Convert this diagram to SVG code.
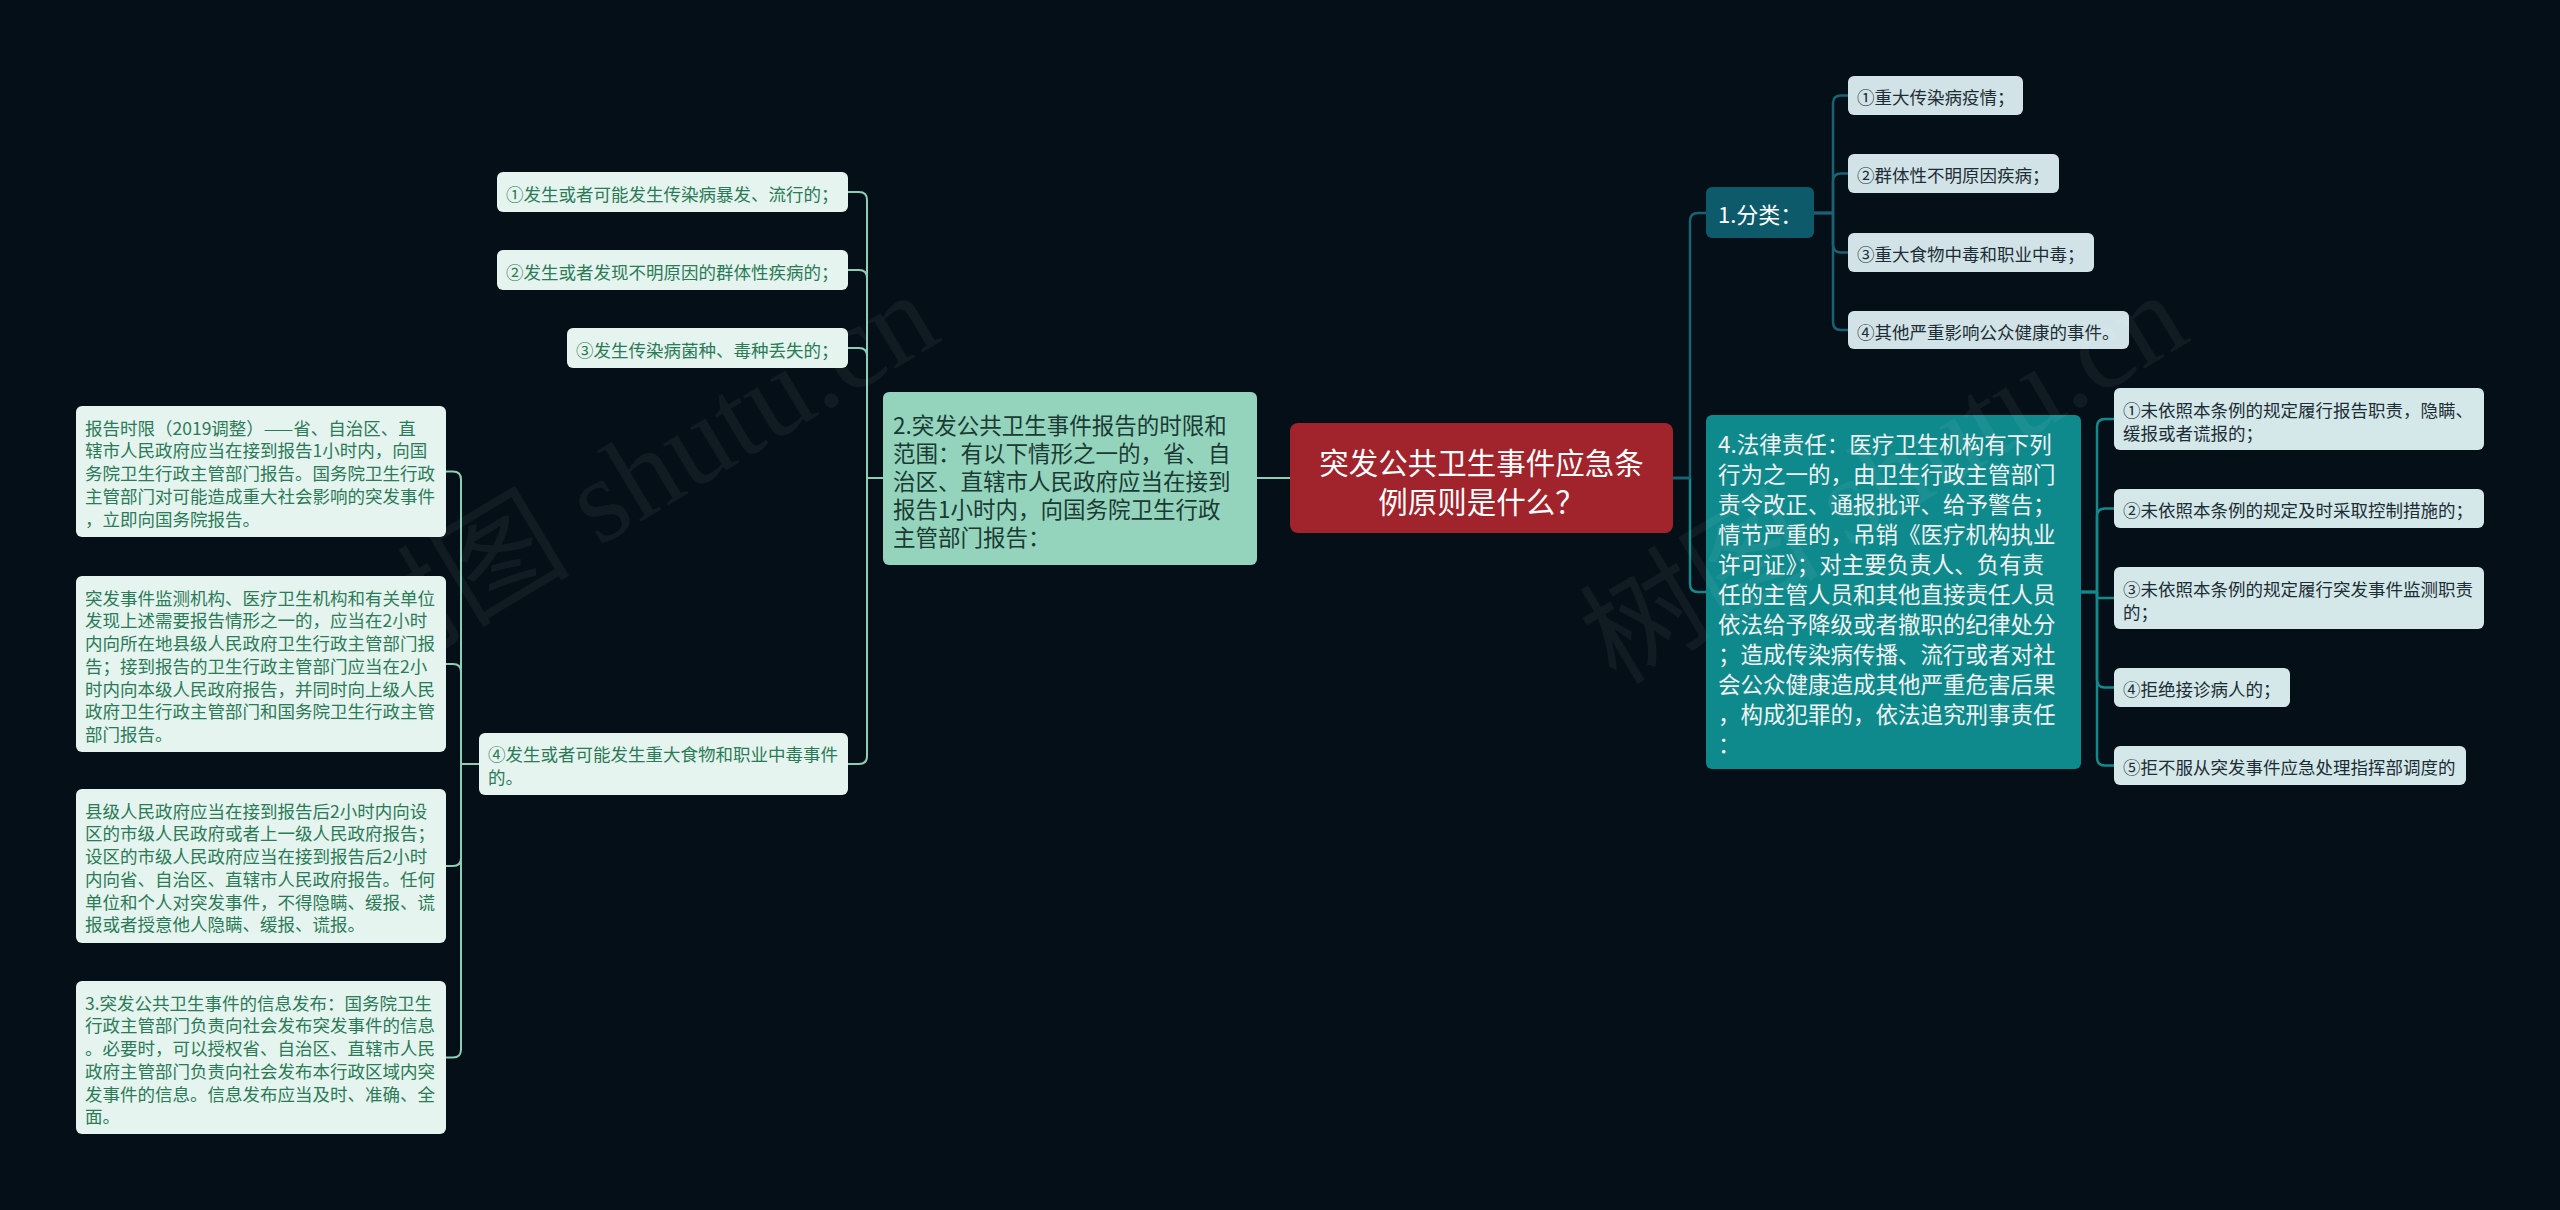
<svg xmlns="http://www.w3.org/2000/svg" width="2560" height="1210" viewBox="0 0 2560 1210">
<style>
text{font-family:"Noto Sans CJK SC","Noto Sans",sans-serif;dominant-baseline:central}
.root rect{fill:#a1232b}
.root text{fill:#ffffff;font-size:29.5px;text-anchor:middle}
.n2 rect{fill:#94d4bd}
.n2 text{fill:#1b3a33;font-size:22.5px}
.lf rect{fill:#e5f4ee}
.lf text{fill:#2b7a58;font-size:17.5px}
.r1 rect{fill:#0c5a6a}
.r1 text{fill:#ffffff;font-size:22px}
.r1c rect{fill:#d2e3e7}
.r1c text{fill:#1d2d35;font-size:17.5px}
.r2 rect{fill:#0f8a8c}
.r2 text{fill:#f2f2f2;font-size:22.5px}
.r2c rect{fill:#d4e8ea}
.r2c text{fill:#1d2d35;font-size:17.5px}
.c{fill:none;stroke-width:2.5;stroke-linejoin:round}
.cm{stroke:#8ccfb5;stroke-width:2}
.cd{stroke:#1a6272}
.ct{stroke:#13898c}
.wm{font-family:"Liberation Serif","Noto Sans CJK SC",serif;font-size:120px;fill:#ffffff;fill-opacity:0.05;dominant-baseline:auto}
</style>
<rect width="2560" height="1210" fill="#050f17"/>

<g id="connectors">
  <path class="c cm" d="M1290,478 H1257"/>
  <path class="c cm" d="M883,478 H867 V200 Q867,192 859,192 H848"/>
  <path class="c cm" d="M883,478 H867 V278 Q867,270 859,270 H848"/>
  <path class="c cm" d="M883,478 H867 V356 Q867,348 859,348 H848"/>
  <path class="c cm" d="M883,478 H867 V756 Q867,764 859,764 H848"/>
  <path class="c cm" d="M479,764 H461 V479.5 Q461,471.5 453,471.5 H446"/>
  <path class="c cm" d="M479,764 H461 V672 Q461,664 453,664 H446"/>
  <path class="c cm" d="M479,764 H461 V858 Q461,866 453,866 H446"/>
  <path class="c cm" d="M479,764 H461 V1049.5 Q461,1057.5 453,1057.5 H446"/>
  <path class="c ct" d="M1673,478 H1690 V584 Q1690,592 1698,592 H1706"/>
  <path class="c cd" d="M1673,478 H1690 V221 Q1690,213 1698,213 H1706"/>
  <path class="c cd" d="M1814,213 H1833 V103.5 Q1833,95.5 1841,95.5 H1848"/>
  <path class="c cd" d="M1814,213 H1833 V181.5 Q1833,173.5 1841,173.5 H1848"/>
  <path class="c cd" d="M1814,213 H1833 V244.5 Q1833,252.5 1841,252.5 H1848"/>
  <path class="c cd" d="M1814,213 H1833 V322 Q1833,330 1841,330 H1848"/>
  <path class="c ct" d="M2081,592 H2097 V427 Q2097,419 2105,419 H2114"/>
  <path class="c ct" d="M2081,592 H2097 V516.5 Q2097,508.5 2105,508.5 H2114"/>
  <path class="c ct" d="M2097,592 V598 H2114"/>
  <path class="c ct" d="M2081,592 H2097 V679.5 Q2097,687.5 2105,687.5 H2114"/>
  <path class="c ct" d="M2081,592 H2097 V757.5 Q2097,765.5 2105,765.5 H2114"/>
</g>

<g id="root" class="root">
  <rect x="1290" y="423" width="383" height="110" rx="8"/>
  <text x="1481.5" y="460.5">突发公共卫生事件应急条</text>
  <text x="1481.5" y="499.5">例原则是什么？</text>
</g>

<g id="node-report" class="n2">
  <rect x="883" y="392" width="374" height="173" rx="6"/>
  <text x="893" y="424">2.突发公共卫生事件报告的时限和</text>
  <text x="893" y="452">范围：有以下情形之一的，省、自</text>
  <text x="893" y="480">治区、直辖市人民政府应当在接到</text>
  <text x="893" y="508">报告1小时内，向国务院卫生行政</text>
  <text x="893" y="536">主管部门报告：</text>
</g>

<g id="node-l1" class="lf">
  <rect x="497" y="172" width="351" height="40" rx="6"/>
  <text x="506" y="193">①发生或者可能发生传染病暴发、流行的；</text>
</g>
<g id="node-l2" class="lf">
  <rect x="497" y="250" width="351" height="40" rx="6"/>
  <text x="506" y="271">②发生或者发现不明原因的群体性疾病的；</text>
</g>
<g id="node-l3" class="lf">
  <rect x="567" y="328" width="281" height="40" rx="6"/>
  <text x="576" y="349">③发生传染病菌种、毒种丢失的；</text>
</g>
<g id="node-l4" class="lf">
  <rect x="479" y="733" width="369" height="62" rx="6"/>
  <text x="488" y="753">④发生或者可能发生重大食物和职业中毒事件</text>
  <text x="488" y="776">的。</text>
</g>

<g id="node-a" class="lf">
  <rect x="76" y="406" width="370" height="131" rx="6"/>
  <text x="85" y="427">报告时限（2019调整）——省、自治区、直</text>
  <text x="85" y="449.75">辖市人民政府应当在接到报告1小时内，向国</text>
  <text x="85" y="472.5">务院卫生行政主管部门报告。国务院卫生行政</text>
  <text x="85" y="495.25">主管部门对可能造成重大社会影响的突发事件</text>
  <text x="85" y="518">，立即向国务院报告。</text>
</g>
<g id="node-b" class="lf">
  <rect x="76" y="576" width="370" height="176" rx="6"/>
  <text x="85" y="597">突发事件监测机构、医疗卫生机构和有关单位</text>
  <text x="85" y="619.75">发现上述需要报告情形之一的，应当在2小时</text>
  <text x="85" y="642.5">内向所在地县级人民政府卫生行政主管部门报</text>
  <text x="85" y="665.25">告；接到报告的卫生行政主管部门应当在2小</text>
  <text x="85" y="688">时内向本级人民政府报告，并同时向上级人民</text>
  <text x="85" y="710.75">政府卫生行政主管部门和国务院卫生行政主管</text>
  <text x="85" y="733.5">部门报告。</text>
</g>
<g id="node-c" class="lf">
  <rect x="76" y="789" width="370" height="154" rx="6"/>
  <text x="85" y="810">县级人民政府应当在接到报告后2小时内向设</text>
  <text x="85" y="832.75">区的市级人民政府或者上一级人民政府报告；</text>
  <text x="85" y="855.5">设区的市级人民政府应当在接到报告后2小时</text>
  <text x="85" y="878.25">内向省、自治区、直辖市人民政府报告。任何</text>
  <text x="85" y="901">单位和个人对突发事件，不得隐瞒、缓报、谎</text>
  <text x="85" y="923.75">报或者授意他人隐瞒、缓报、谎报。</text>
</g>
<g id="node-d" class="lf">
  <rect x="76" y="981" width="370" height="153" rx="6"/>
  <text x="85" y="1002">3.突发公共卫生事件的信息发布：国务院卫生</text>
  <text x="85" y="1024.75">行政主管部门负责向社会发布突发事件的信息</text>
  <text x="85" y="1047.5">。必要时，可以授权省、自治区、直辖市人民</text>
  <text x="85" y="1070.25">政府主管部门负责向社会发布本行政区域内突</text>
  <text x="85" y="1093">发事件的信息。信息发布应当及时、准确、全</text>
  <text x="85" y="1115.75">面。</text>
</g>

<g id="node-class" class="r1">
  <rect x="1706" y="187" width="108" height="51" rx="6"/>
  <text x="1718" y="213">1.分类：</text>
</g>
<g id="node-c1" class="r1c">
  <rect x="1848" y="76" width="175" height="39" rx="6"/>
  <text x="1857" y="96">①重大传染病疫情；</text>
</g>
<g id="node-c2" class="r1c">
  <rect x="1848" y="154" width="211" height="39" rx="6"/>
  <text x="1857" y="174">②群体性不明原因疾病；</text>
</g>
<g id="node-c3" class="r1c">
  <rect x="1848" y="233" width="246" height="39" rx="6"/>
  <text x="1857" y="253">③重大食物中毒和职业中毒；</text>
</g>
<g id="node-c4" class="r1c">
  <rect x="1848" y="311" width="281" height="38" rx="6"/>
  <text x="1857" y="331">④其他严重影响公众健康的事件。</text>
</g>

<g id="node-law" class="r2">
  <rect x="1706" y="415" width="375" height="354" rx="6"/>
  <text x="1718" y="443">4.法律责任：医疗卫生机构有下列</text>
  <text x="1718" y="473">行为之一的，由卫生行政主管部门</text>
  <text x="1718" y="503">责令改正、通报批评、给予警告；</text>
  <text x="1718" y="533">情节严重的，吊销《医疗机构执业</text>
  <text x="1718" y="563">许可证》；对主要负责人、负有责</text>
  <text x="1718" y="593">任的主管人员和其他直接责任人员</text>
  <text x="1718" y="623">依法给予降级或者撤职的纪律处分</text>
  <text x="1718" y="653">；造成传染病传播、流行或者对社</text>
  <text x="1718" y="683">会公众健康造成其他严重危害后果</text>
  <text x="1718" y="713">，构成犯罪的，依法追究刑事责任</text>
  <text x="1718" y="743">：</text>
</g>
<g id="node-d1" class="r2c">
  <rect x="2114" y="388" width="370" height="62" rx="6"/>
  <text x="2123" y="409">①未依照本条例的规定履行报告职责，隐瞒、</text>
  <text x="2123" y="432">缓报或者谎报的；</text>
</g>
<g id="node-d2" class="r2c">
  <rect x="2114" y="489" width="370" height="39" rx="6"/>
  <text x="2123" y="509">②未依照本条例的规定及时采取控制措施的；</text>
</g>
<g id="node-d3" class="r2c">
  <rect x="2114" y="567" width="370" height="62" rx="6"/>
  <text x="2123" y="588">③未依照本条例的规定履行突发事件监测职责</text>
  <text x="2123" y="611">的；</text>
</g>
<g id="node-d4" class="r2c">
  <rect x="2114" y="668" width="176" height="39" rx="6"/>
  <text x="2123" y="688">④拒绝接诊病人的；</text>
</g>
<g id="node-d5" class="r2c">
  <rect x="2114" y="746" width="352" height="39" rx="6"/>
  <text x="2123" y="766">⑤拒不服从突发事件应急处理指挥部调度的</text>
</g>

<g id="watermark">
  <text class="wm" x="367" y="686" transform="rotate(-31 367 686)">树图 shutu.cn</text>
  <text class="wm" x="1616" y="686" transform="rotate(-31 1616 686)">树图 shutu.cn</text>
</g>
</svg>
